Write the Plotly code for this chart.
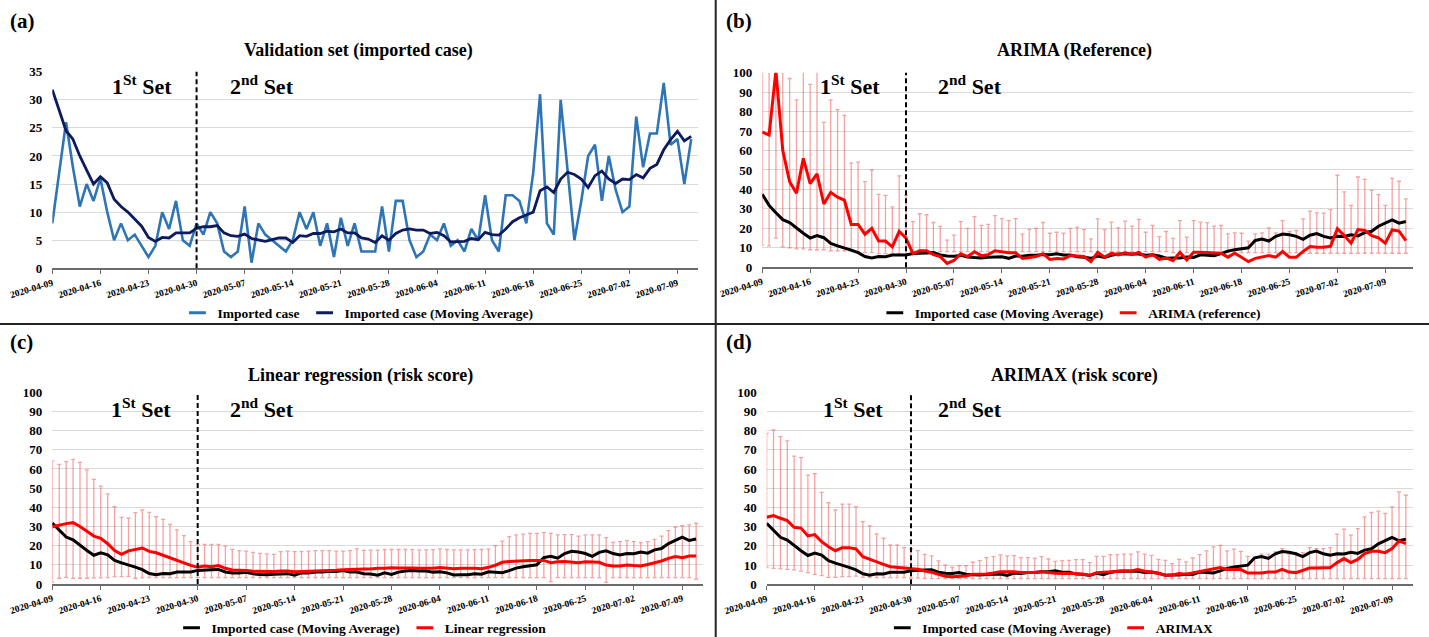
import pandas as pd
import plotly.graph_objects as go

# ---------------- data ----------------
START = "2020-04-09"
SPLIT_DATE = "2020-04-30"

imported = [8, 17, 26, 18, 11, 15, 12, 16, 10, 5,
            8, 5, 6, 4, 2, 4, 10, 7, 12, 5,
            4, 8, 6, 10, 8, 3, 2, 3, 11, 1,
            8, 6, 5, 4, 3, 5, 10, 7, 10, 4,
            8, 2, 9, 4, 8, 3, 3, 3, 11, 3,
            12, 12, 5, 2, 3, 6, 5, 8, 4, 5,
            3, 7, 5, 13, 5, 3, 13, 13, 12, 8,
            17, 31, 8, 6, 30, 17, 5, 12, 20, 22,
            12, 20, 14, 10, 11, 27, 18, 24, 24, 33,
            22, 23, 15, 23]

moving_avg = [31.8, 28, 24.5, 23, 20, 17.5, 15, 16.3, 15.2, 12.3,
              11, 10, 8.8, 7.5, 5.5, 4.8, 5.5, 5.4, 6.3, 6.3,
              6.3, 7.1, 7.4, 7.4, 7.6, 6.3, 5.8, 5.7, 6.1, 5.3,
              5.0, 4.8, 5.1, 5.4, 5.4, 4.6, 5.8, 5.7, 6.2, 6.2,
              6.6, 6.5, 7.0, 6.3, 6.3, 5.4, 5.2, 4.6, 5.8, 5.0,
              6.2, 6.8, 7.0, 6.8, 6.8, 6.2, 6.4, 5.8, 4.7, 4.8,
              4.8, 5.3, 5.1, 6.4, 6.0, 5.9, 7.0, 8.3, 9.0, 9.5,
              10.0, 13.8, 14.5, 13.5, 15.9, 17.1, 16.7, 15.9, 14.4, 16.5,
              17.3, 15.9, 15.1, 15.9, 15.8, 16.7, 16.1, 17.8, 18.5, 21.1,
              22.9, 24.4, 22.7, 23.5]

arima_first_ma = [37.5]

arima = [69.5, 68, 101, 60, 44, 38, 56, 43, 48, 32.5,
         38.5, 36, 34.5, 22, 22, 17, 20, 13.5, 13.5, 10.5,
         18.5, 15, 7, 8.5, 8.5, 6.5, 5.5, 2, 3.5, 7,
         5.5, 8, 6, 6.5, 8.5, 8, 7.5, 7.5, 4.5, 5,
         5.5, 7, 4, 4.5, 4.3, 6, 5.7, 5.5, 2.9, 7.7,
         5.2, 7.2, 6.4, 7.4, 6.5, 7.7, 5.2, 6.5, 4, 4.8,
         3.4, 7.7, 3.8, 7.7, 7.7, 7.5, 7.2, 7.2, 5.2, 7.2,
         5.2, 2.9, 4.6, 5.2, 6, 5.2, 8.1, 5.2, 5.2, 8.2,
         10.7, 10.3, 10.3, 10.8, 19.8, 16.3, 12.4, 19.4, 18.9, 16.3,
         15.1, 12.4, 19.2, 18.6, 13.7]

arima_upper = [105, 105, 105, 105, 97, 86, 105, 94, 105, 74.5,
               86, 81, 78, 53.5, 54, 44, 50, 37.5, 37, 31,
               47, 37, 23.5, 27.5, 27, 23, 21, 14, 16.5, 23.5,
               20, 26, 21.5, 22, 26.5, 25, 24, 25, 17, 19.5,
               20, 23, 17.5, 18, 17.5, 20, 20.6, 19.4, 14.6, 24.9,
               19.4, 23.2, 20.3, 23.7, 21.1, 24.6, 18, 21.5, 15.8, 18.4,
               14.9, 24, 15.5, 24, 23.2, 22.9, 21.1, 21.5, 17.2, 17.7,
               17.5, 13.4, 17.2, 17.7, 20.3, 17.7, 24, 18.4, 18.9, 24.9,
               28.9, 28, 27.8, 29.6, 47.3, 38.7, 31.8, 46.4, 45.2, 39.5,
               37.3, 31.8, 45.7, 44.2, 35.2]

arima_lower = [11.5, 11, 15, 10.5, 10, 9.5, 9.5, 9, 9, 9,
               8.5, 8.5, 8.5, 8, 8, 7.5, 7.5, 7, 7, 7,
               7, 6.5, 8, 8, 8, 8, 8, 8, 8, 8,
               8, 8, 8, 8, 8, 8, 8, 8, 8, 8,
               8, 8, 8, 8, 8, 8, 8, 8, 8, 8,
               8, 8, 8, 8, 8, 8, 8, 8, 8, 8,
               7.5, 7.5, 7.5, 7.5, 7.5, 7.5, 7.5, 7.5, 7.5, 7.5,
               7.5, 7.5, 7.5, 7.5, 7.5, 7.5, 7.5, 7.5, 7.5, 7.2,
               7.2, 7.2, 7.2, 7.2, 7.2, 7.2, 7.2, 7.2, 7.2, 7.2,
               7.2, 7.2, 7.2, 7.2, 7.2]

linreg = [29.9, 30.8, 31.5, 32, 30, 27.5, 25, 23.8, 21, 17.5,
          15.5, 17.3, 18, 18.8, 17, 16.3, 15, 13.8, 12.5, 11,
          9.7, 8.7, 9.4, 9, 9.6, 8.2, 7.3, 7.2, 7, 6.6,
          6.5, 6.4, 6.5, 6.8, 6.8, 6.4, 6.5, 6.6, 6.8, 6.6,
          7.0, 7.2, 7.5, 7.6, 8.0, 7.8, 7.8, 8.2, 8.2, 8.5,
          8.4, 8.5, 8.4, 8.2, 8.2, 8.2, 8.6, 8.4, 8.0, 8.2,
          8.3, 8.2, 8.0, 8.7, 9.8, 11.3, 11.7, 12, 12.2, 12.3,
          12.3, 12.3, 11.1, 11.6, 11.7, 11.5, 11.1, 11.6, 11.5, 11.3,
          9.9, 9.4, 9.4, 9.9, 9.6, 9.4, 10.2, 11.1, 12, 13.4,
          14.3, 13.7, 14.6, 14.6]

linreg_upper = [64.2, 62.4, 63.8, 65, 63.5, 59.5, 54.6, 51.1, 47, 40.3,
                34.8, 34.3, 37.2, 38.6, 37.4, 35.1, 33.7, 31.1, 28.2, 25.2,
                22.1, 20.7, 20.7, 20.7, 20.7, 19.8, 18.1, 17.4, 17.2, 16.5,
                16, 15.7, 15.5, 16.9, 17.2, 16.9, 16.9, 17.2, 17.4, 17.4,
                17.4, 17.2, 17.2, 17.4, 18.3, 17.5, 17.7, 17.7, 17.9, 18,
                18, 18, 17.9, 17.8, 17.8, 17.9, 18.3, 18, 17.8, 17.8,
                17.8, 17.9, 18, 18.2, 20, 22.4, 24.7, 25.6, 26, 26.4,
                26.4, 26.8, 26.4, 25.6, 25.8, 25.8, 25, 25.6, 25.6, 25.6,
                24.2, 21.7, 22.1, 22.6, 22.1, 21.6, 22.1, 23.3, 25, 27.8,
                29.6, 30.4, 30.8, 31.7]

linreg_lower = [1, 3, 3.5, 3, 3, 3, 3.2, 3.2, 3.3, 3.8,
                3.8, 4, 3, 3.2, 3.3, 3.3, 3.3, 3.3, 3.3, 3.3,
                3.3, 3.3, 3.3, 3.3, 3.3, 3.3, 3.3, 3.3, 3.3, 3.3,
                3.3, 3.3, 3.3, 3.3, 3.3, 3.3, 3.3, 3.3, 3.3, 3.3,
                3.3, 3.3, 3.3, 3.3, 3.3, 3.3, 3.3, 3.3, 3.3, 3.3,
                3.3, 3.3, 3.3, 3.3, 3.3, 3.3, 3.3, 3.3, 3.3, 3.3,
                3.3, 3.3, 3.3, 3.3, 3.3, 3.3, 3.3, 3.3, 3.3, 3.3,
                3.3, 3.3, 1.2, 3.3, 3.3, 3.3, 3.3, 3.3, 3.3, 3.3,
                0.9, 3.3, 3.3, 3.3, 3.3, 3.3, 3.3, 3.3, 3.3, 3.3,
                3.3, 3.3, 3.3, 2.6]

arimax = [34.9, 35.8, 34.4, 33.2, 29.7, 29.3, 25.2, 25.9, 22.2, 19.6,
          17.5, 19.1, 19.1, 18.4, 14.4, 13, 11.5, 10.4, 9.2, 8.9,
          8.3, 8, 7.8, 6.9, 6.3, 5.2, 4.2, 4, 4.3, 4.3,
          5.2, 5.2, 5.4, 5.9, 6.6, 6.6, 6.6, 6.1, 6.1, 6.1,
          6.6, 6.1, 5.8, 5.6, 5.6, 5.6, 5.2, 4.7, 6.1, 6.4,
          6.4, 6.8, 7, 7, 7.7, 6.8, 6.4, 5.6, 4.7, 4.7,
          5.6, 5.2, 5.9, 6.4, 7.3, 8.2, 8.7, 7.7, 7.8, 7.7,
          5.9, 5.9, 5.9, 6.4, 6.4, 7.8, 6.4, 6.1, 7.3, 8.5,
          8.5, 8.5, 8.7, 11.3, 13.4, 11.3, 13, 16, 17.2, 17.2,
          16.5, 18.6, 22.6, 21.2]

arimax_upper = [78.6, 80.4, 76.9, 74.7, 66.8, 66, 56.9, 57.6, 47.9, 42.5,
                38.7, 41.8, 41.8, 40.5, 32.6, 30.4, 26.2, 24, 20.5, 20.5,
                19.1, 18.4, 17.5, 15.6, 14.8, 12.2, 10.1, 9, 9.7, 9.7,
                11.5, 12.3, 13.9, 14.4, 15.3, 14.8, 14.9, 13.9, 13.9, 13.5,
                14.4, 13.2, 12, 12.3, 12.5, 12.9, 12.9, 11.3, 14.6, 14.6,
                15.5, 15.5, 15.7, 15.7, 16.9, 15.7, 15.1, 13, 12.5, 10.8,
                13, 11.7, 13.7, 15.5, 17.4, 19.5, 20.3, 17.4, 18.3, 17.2,
                14.6, 13.7, 15.7, 15.7, 16.9, 18.6, 15.7, 16.3, 16.5, 19.1,
                18.6, 18.6, 19.1, 26.1, 28.7, 25.6, 29, 35.1, 37.4, 38.1,
                36.9, 40.3, 48.2, 46.4]

arimax_lower = [8.7, 8.3, 8, 7.8, 7.5, 6.9, 6.1, 5.2, 4.5, 3.6,
                3.6, 4, 4, 4.3, 3.6, 3.5, 3.5, 3.5, 3.5, 3.5,
                3.5, 3.3, 3.2, 3.1, 3, 3, 3, 3, 3, 3,
                3, 3, 3, 3, 3, 3, 3, 3, 3, 3,
                3, 3, 3, 3, 3, 3, 3, 3, 3, 3,
                3, 3, 3, 3, 3, 3, 3, 3, 3, 3,
                3, 3, 3, 3, 3, 3, 3, 3, 3, 3,
                3, 3, 3, 3, 3, 3, 3, 3, 3, 3,
                3, 3, 3, 3, 3, 3, 3, 3, 3, 3,
                3, 3, 3, 3]

y_ticks_a = [0, 5, 10, 15, 20, 25, 30, 35]
y_ticks_pct = [0, 10, 20, 30, 40, 50, 60, 70, 80, 90, 100]

# ---------------- styling ----------------
FONT = "Liberation Serif"
BLUE = "#2E75B6"
NAVY = "#0D1B5E"
RED = "#FF0000"
BLACK = "#000000"
ERR = "rgba(240,70,70,0.5)"

dates_a = pd.date_range(START, periods=len(imported), freq="D")
black_b = arima_first_ma + moving_avg
dates_b = pd.date_range(START, periods=len(arima), freq="D")
dates_c = pd.date_range(START, periods=len(linreg), freq="D")
dates_d = pd.date_range(START, periods=len(arimax), freq="D")

fig = go.Figure()


def legend_item(name, color, legend):
    fig.add_trace(go.Scatter(
        x=[None], y=[None], mode="markers", name=name, legend=legend,
        marker=dict(symbol="line-ew", size=12, color=color,
                    line=dict(color=color, width=3)),
        hoverinfo="skip"))


def error_trace(dates, lower, upper, xa, ya):
    fig.add_trace(go.Scatter(
        x=dates, y=lower, mode="markers", xaxis=xa, yaxis=ya,
        marker=dict(size=1, color="rgba(0,0,0,0)"),
        error_y=dict(type="data", symmetric=False,
                     array=[u - l for u, l in zip(upper, lower)],
                     arrayminus=[0] * len(lower),
                     color=ERR, thickness=1.3, width=2),
        showlegend=False, hoverinfo="skip"))


def line(dates, vals, color, width, xa, ya):
    fig.add_trace(go.Scatter(
        x=dates, y=vals, mode="lines", xaxis=xa, yaxis=ya,
        line=dict(color=color, width=width),
        showlegend=False))


# (a)
line(dates_a, imported, BLUE, 2.6, "x", "y")
line(dates_a, moving_avg, NAVY, 2.8, "x", "y")
legend_item("Imported case", BLUE, "legend")
legend_item("Imported case (Moving Average)", NAVY, "legend")

# (b)
error_trace(dates_b, arima_lower, arima_upper, "x2", "y2")
line(dates_b, black_b, BLACK, 3, "x2", "y2")
line(dates_b, arima, RED, 3, "x2", "y2")
legend_item("Imported case (Moving Average)", BLACK, "legend2")
legend_item("ARIMA (reference)", RED, "legend2")

# (c)
error_trace(dates_c, linreg_lower, linreg_upper, "x3", "y3")
line(dates_c, moving_avg, BLACK, 3, "x3", "y3")
line(dates_c, linreg, RED, 3, "x3", "y3")
legend_item("Imported case (Moving Average)", BLACK, "legend3")
legend_item("Linear regression", RED, "legend3")

# (d)
error_trace(dates_d, arimax_lower, arimax_upper, "x4", "y4")
line(dates_d, moving_avg, BLACK, 3, "x4", "y4")
line(dates_d, arimax, RED, 3, "x4", "y4")
legend_item("Imported case (Moving Average)", BLACK, "legend4")
legend_item("ARIMAX", RED, "legend4")

W, H = 1429, 637

xcommon = dict(
    type="date", tick0=START, dtick=7 * 86400000, tickformat="%Y-%m-%d",
    tickangle=-17, tickfont=dict(family=FONT, size=9.5, color="black", weight="bold"),
    showgrid=False, showline=True, linecolor="#6b6b6b", linewidth=1.5,
    ticks="outside", ticklen=4, tickcolor="#6b6b6b", zeroline=False,
    automargin=False, fixedrange=True)

ycommon = dict(
    showgrid=True, gridcolor="#D9D9D9", gridwidth=1, zeroline=False,
    showline=False, ticks="", ticklabelstandoff=9, automargin=False,
    tickfont=dict(family=FONT, size=13, color="black", weight="bold"),
    fixedrange=True)

legfont = dict(family=FONT, size=13.5, color="black", weight="bold")


def leg(xc, yc, yanchor="middle"):
    return dict(orientation="h", x=xc, y=yc, xanchor="center", yanchor=yanchor,
                font=legfont, bgcolor="rgba(0,0,0,0)", itemwidth=30,
                tracegroupgap=0, itemclick=False, borderwidth=0)


fig.update_layout(
    width=W, height=H, margin=dict(l=0, r=0, t=0, b=0, autoexpand=False),
    paper_bgcolor="white", plot_bgcolor="white",
    xaxis=dict(xcommon, domain=[0.0366, 0.4885], range=["2020-04-09", "2020-07-12"], anchor="y"),
    yaxis=dict(ycommon, domain=[0.5788, 0.8874], range=[0, 35], tickvals=y_ticks_a, anchor="x"),
    xaxis2=dict(xcommon, domain=[0.5334, 0.9886], range=["2020-04-09", "2020-07-13"], anchor="y2"),
    yaxis2=dict(ycommon, domain=[0.5804, 0.8859], range=[0, 100], tickvals=y_ticks_pct, anchor="x2"),
    xaxis3=dict(xcommon, domain=[0.0366, 0.4920], range=["2020-04-09", "2020-07-12"], anchor="y3"),
    yaxis3=dict(ycommon, domain=[0.0832, 0.3841], range=[0, 100], tickvals=y_ticks_pct, anchor="x3"),
    xaxis4=dict(xcommon, domain=[0.5365, 0.9886], range=["2020-04-09", "2020-07-12"], anchor="y4"),
    yaxis4=dict(ycommon, domain=[0.0827, 0.3841], range=[0, 100], tickvals=y_ticks_pct, anchor="x4"),
    legend=leg(0.2505, 1 - 313 / H),
    legend2=leg(0.7490, 1 - 313 / H),
    legend3=leg(0.2530, 1 - 628 / H),
    legend4=leg(0.7350, 1 - 628 / H),
    showlegend=True,
)

# dashed split line and set labels
panels = [("x", "y", 0.139, 0.325, 0.932),
          ("x2", "y2", 0.135, 0.319, 0.937),
          ("x3", "y3", 0.137, 0.322, 0.917),
          ("x4", "y4", 0.134, 0.315, 0.917)]
for xa, ya, f1, f2, fy in panels:
    fig.add_shape(type="line", xref=xa, yref=ya + " domain", x0=SPLIT_DATE, x1=SPLIT_DATE,
                  y0=0, y1=1, line=dict(color="black", width=2, dash="5px,3px"))
    fig.add_annotation(xref=xa + " domain", yref=ya + " domain", x=f1, y=fy,
                       xanchor="center", yanchor="middle",
                       text="1<sup>St</sup> Set", showarrow=False,
                       font=dict(family=FONT, size=22, color="black", weight="bold"))
    fig.add_annotation(xref=xa + " domain", yref=ya + " domain", x=f2, y=fy,
                       xanchor="center", yanchor="middle",
                       text="2<sup>nd</sup> Set", showarrow=False,
                       font=dict(family=FONT, size=22, color="black", weight="bold"))

# titles
titles = [("Validation set (imported case)", 0.2509, 1 - 51 / H),
          ("ARIMA (Reference)", 0.7520, 1 - 51 / H),
          ("Linear regression (risk score)", 0.2520, 1 - 375 / H),
          ("ARIMAX (risk score)", 0.7520, 1 - 375 / H)]
for t, xx, yy in titles:
    fig.add_annotation(xref="paper", yref="paper", x=xx, y=yy, text=t,
                       showarrow=False, xanchor="center", yanchor="middle",
                       font=dict(family=FONT, size=18, color="black", weight="bold"))

labels = [("(a)", 8 / W, 1 - 21 / H), ("(b)", 724 / W, 1 - 21 / H),
          ("(c)", 8 / W, 1 - 342 / H), ("(d)", 724 / W, 1 - 342 / H)]
for t, xx, yy in labels:
    fig.add_annotation(xref="paper", yref="paper", x=xx, y=yy, text=t,
                       showarrow=False, xanchor="left", yanchor="middle",
                       font=dict(family=FONT, size=21, color="black", weight="bold"))

# panel separators
fig.add_shape(type="line", xref="paper", yref="paper", x0=715.7 / W, x1=715.7 / W,
              y0=0, y1=1, line=dict(color="#222222", width=2))
fig.add_shape(type="line", xref="paper", yref="paper", x0=0, x1=1,
              y0=1 - 324 / H, y1=1 - 324 / H, line=dict(color="#222222", width=2))

fig.write_html("out.html", config={"displayModeBar": False},
               post_script="document.body.style.margin='0';")
